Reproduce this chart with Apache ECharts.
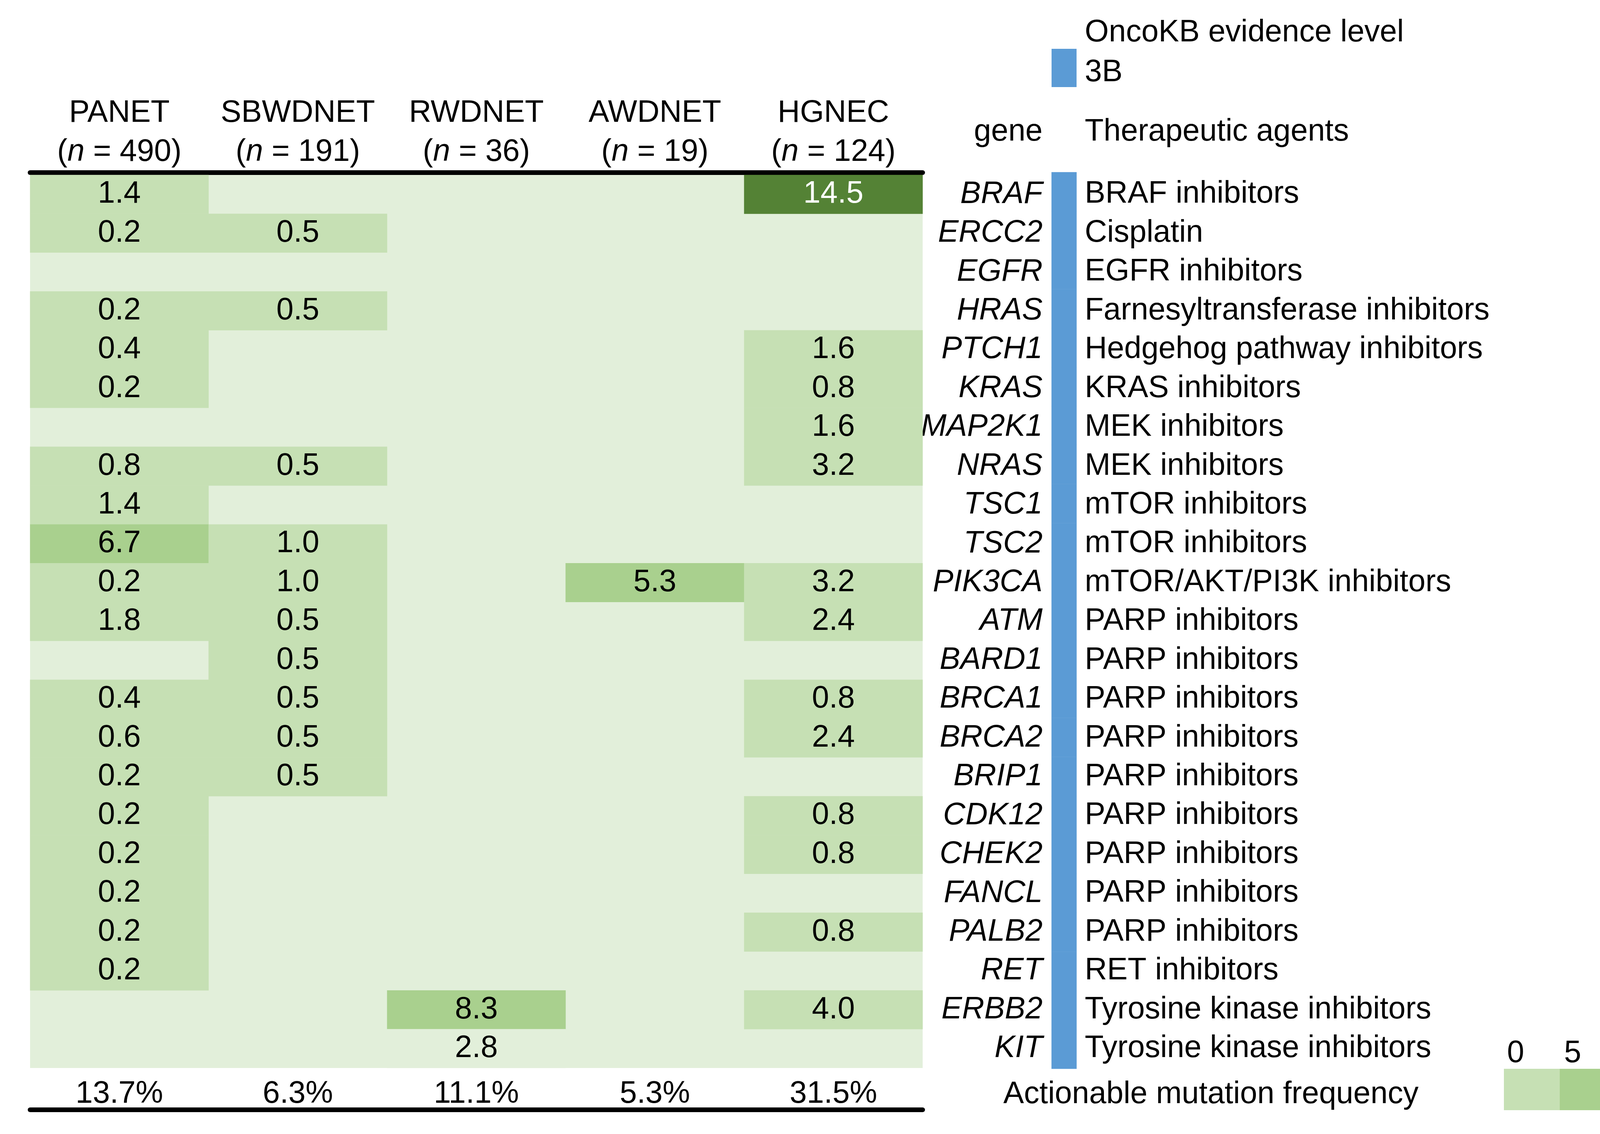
<!DOCTYPE html>
<html>
<head>
<meta charset="utf-8">
<script src="https://cdn.jsdelivr.net/npm/echarts@6/dist/echarts.min.js"></script>
<style>
html,body{margin:0;padding:0;background:#fff;}
#chart{width:4340px;height:2904px;}
</style>
</head>
<body>
<div id="chart"></div>
<script>
// ---- data ----
var cohorts = ['PANET', 'SBWDNET', 'RWDNET', 'AWDNET', 'HGNEC'];
var cohortN = [490, 191, 36, 19, 124];
var actionableFreq = ['13.7%', '6.3%', '11.1%', '5.3%', '31.5%'];
var genes = ['BRAF','ERCC2','EGFR','HRAS','PTCH1','KRAS','MAP2K1','NRAS','TSC1','TSC2','PIK3CA','ATM','BARD1','BRCA1','BRCA2','BRIP1','CDK12','CHEK2','FANCL','PALB2','RET','ERBB2','KIT'];
var agents = ['BRAF inhibitors','Cisplatin','EGFR inhibitors','Farnesyltransferase inhibitors','Hedgehog pathway inhibitors','KRAS inhibitors','MEK inhibitors','MEK inhibitors','mTOR inhibitors','mTOR inhibitors','mTOR/AKT/PI3K inhibitors','PARP inhibitors','PARP inhibitors','PARP inhibitors','PARP inhibitors','PARP inhibitors','PARP inhibitors','PARP inhibitors','PARP inhibitors','PARP inhibitors','RET inhibitors','Tyrosine kinase inhibitors','Tyrosine kinase inhibitors'];
var evidenceLevel = ['3B','3B','3B','3B','3B','3B','3B','3B','3B','3B','3B','3B','3B','3B','3B','3B','3B','3B','3B','3B','3B','3B','3B'];
// frequency (%) per gene, columns: PANET, SBWDNET, RWDNET, AWDNET, HGNEC (null = none)
var freqPANET   = [1.4, 0.2, null, 0.2, 0.4, 0.2, null, 0.8, 1.4, 6.7, 0.2, 1.8, null, 0.4, 0.6, 0.2, 0.2, 0.2, 0.2, 0.2, 0.2, null, null];
var freqSBWDNET = [null, 0.5, null, 0.5, null, null, null, 0.5, null, 1.0, 1.0, 0.5, 0.5, 0.5, 0.5, 0.5, null, null, null, null, null, null, null];
var freqRWDNET  = [null, null, null, null, null, null, null, null, null, null, null, null, null, null, null, null, null, null, null, null, null, 8.3, 2.8];
var freqAWDNET  = [null, null, null, null, null, null, null, null, null, null, 5.3, null, null, null, null, null, null, null, null, null, null, null, null];
var freqHGNEC   = [14.5, null, null, null, 1.6, 0.8, 1.6, 3.2, null, null, 3.2, 2.4, null, 0.8, 2.4, null, 0.8, 0.8, null, 0.8, null, 4.0, null];
// cells printed without shading in the original
var unshaded = [['KIT', 'RWDNET']];
var legendTicks = ['0', '5', '>10'];

// ---- build ----
var BG = '#e2efda', C1 = '#c6e0b4', C2 = '#a9d08e', C3 = '#548235', BLUE = '#5b9bd5';
var FONT = 'Liberation Sans, Arial, Helvetica, sans-serif';
var FS = 79;
function colorFor(v) { return v >= 10 ? C3 : (v >= 5 ? C2 : C1); }
var cols = [freqPANET, freqSBWDNET, freqRWDNET, freqAWDNET, freqHGNEC];
var cells = [];
cols.forEach(function (arr, ci) {
  arr.forEach(function (v, gi) {
    if (v === null) return;
    var plain = unshaded.some(function (u) { return u[0] === genes[gi] && u[1] === cohorts[ci]; });
    cells.push({
      value: [ci, gi, v],
      itemStyle: { color: plain ? BG : colorFor(v) },
      label: { color: v >= 10 ? '#ffffff' : '#000000' }
    });
  });
});
var evidenceCells = evidenceLevel.map(function (lv, gi) { return { value: [0, gi, 1], name: lv }; });
var headerLabels = cohorts.map(function (c, i) { return c + '\n({i|n} = ' + cohortN[i] + ')'; });

var GL = 77, GR = 2362, GT = 448, GB = 2735;

var chart = echarts.init(document.getElementById('chart'), null, { renderer: 'canvas' });
chart.setOption({
  backgroundColor: '#ffffff',
  animation: false,
  textStyle: { fontFamily: FONT },
  grid: [
    { left: GL, top: GT, width: GR - GL, height: GB - GT, show: true, backgroundColor: BG, borderWidth: 0 },
    { left: 2692, top: 441, width: 64, height: 2737 - 441, show: false }
  ],
  xAxis: [
    { type: 'category', gridIndex: 0, data: headerLabels, position: 'top', offset: 6,
      axisLine: { show: true, lineStyle: { color: '#000', width: 12 } }, axisTick: { show: false },
      axisLabel: { interval: 0, margin: 2, color: '#000', fontSize: FS, lineHeight: 100, fontFamily: FONT,
        rich: { i: { fontStyle: 'italic', fontSize: FS, lineHeight: 100, fontFamily: FONT, color: '#000' } } },
      splitLine: { show: false } },
    { type: 'category', gridIndex: 0, data: actionableFreq, position: 'bottom',
      axisLine: { show: false }, axisTick: { show: false },
      axisLabel: { interval: 0, margin: 28, color: '#000', fontSize: FS, fontFamily: FONT } },
    { type: 'category', gridIndex: 0, data: cohorts, position: 'bottom', offset: 107,
      axisLine: { show: true, lineStyle: { color: '#000', width: 12 } }, axisTick: { show: false },
      axisLabel: { show: false } },
    { type: 'category', gridIndex: 1, data: ['3B'], show: false }
  ],
  yAxis: [
    { type: 'category', gridIndex: 0, data: genes, inverse: true, position: 'right',
      axisLine: { show: false }, axisTick: { show: false },
      axisLabel: { interval: 0, margin: 2669 - GR, align: 'right', fontStyle: 'italic', color: '#000', fontSize: FS, fontFamily: FONT } },
    { type: 'category', gridIndex: 0, data: agents, inverse: true, position: 'right',
      axisLine: { show: false }, axisTick: { show: false },
      axisLabel: { interval: 0, margin: 2777 - GR, align: 'left', color: '#000', fontSize: FS, fontFamily: FONT } },
    { type: 'category', gridIndex: 1, data: genes, inverse: true, show: false }
  ],
  series: [
    { type: 'heatmap', xAxisIndex: 0, yAxisIndex: 0, data: cells,
      label: { show: true, fontSize: FS, fontFamily: FONT,
        formatter: function (p) { return p.value[2].toFixed(1); } },
      itemStyle: { borderWidth: 0 }, emphasis: { disabled: true } },
    { type: 'heatmap', xAxisIndex: 3, yAxisIndex: 2, data: evidenceCells,
      itemStyle: { color: BLUE, borderWidth: 0 }, label: { show: false }, emphasis: { disabled: true } }
  ],
  graphic: [
    { type: 'text', x: 2777, y: 84, style: { text: 'OncoKB evidence level', font: FS + 'px ' + FONT, fill: '#000', align: 'left', verticalAlign: 'middle' } },
    { type: 'rect', shape: { x: 2692, y: 125, width: 64, height: 98 }, style: { fill: BLUE } },
    { type: 'text', x: 2777, y: 186, style: { text: evidenceLevel[0], font: FS + 'px ' + FONT, fill: '#000', align: 'left', verticalAlign: 'middle' } },
    { type: 'text', x: 2669, y: 338, style: { text: 'gene', font: FS + 'px ' + FONT, fill: '#000', align: 'right', verticalAlign: 'middle' } },
    { type: 'text', x: 2777, y: 338, style: { text: 'Therapeutic agents', font: FS + 'px ' + FONT, fill: '#000', align: 'left', verticalAlign: 'middle' } },
    { type: 'text', x: 3100, y: 2803, style: { text: 'Actionable mutation frequency', font: FS + 'px ' + FONT, fill: '#000', align: 'center', verticalAlign: 'middle' } },
    { type: 'rect', shape: { x: 3850, y: 2737, width: 144, height: 106 }, style: { fill: C1 } },
    { type: 'rect', shape: { x: 3993, y: 2737, width: 145, height: 106 }, style: { fill: C2 } },
    { type: 'rect', shape: { x: 4137, y: 2737, width: 150, height: 106 }, style: { fill: C3 } },
    { type: 'text', x: 3880, y: 2698, style: { text: legendTicks[0], font: FS + 'px ' + FONT, fill: '#000', align: 'center', verticalAlign: 'middle' } },
    { type: 'text', x: 4026, y: 2698, style: { text: legendTicks[1], font: FS + 'px ' + FONT, fill: '#000', align: 'center', verticalAlign: 'middle' } },
    { type: 'text', x: 4209, y: 2698, style: { text: legendTicks[2], font: FS + 'px ' + FONT, fill: '#000', align: 'center', verticalAlign: 'middle' } }
  ]
});
</script>
</body>
</html>
